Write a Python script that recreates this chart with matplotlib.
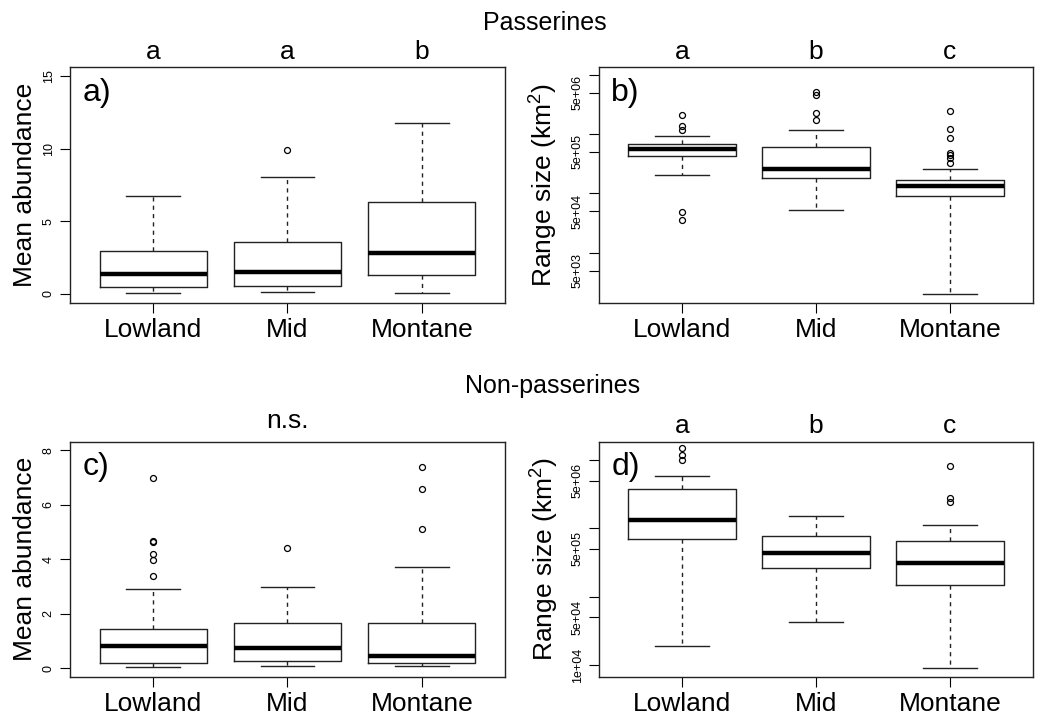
import numpy as np
import matplotlib
matplotlib.use("Agg")
import matplotlib.pyplot as plt
from matplotlib.ticker import FixedLocator, NullLocator

plt.rcParams['font.family'] = ['Liberation Sans', 'DejaVu Sans']
plt.rcParams['mathtext.fontset'] = 'custom'
plt.rcParams['mathtext.rm'] = 'Liberation Sans'
plt.rcParams['mathtext.it'] = 'Liberation Sans:italic'

groups = ['Lowland', 'Mid', 'Montane']

# a) passerines, mean abundance
a_whislo = [0.09, 0.16, 0.09]
a_q1 = [0.48, 0.53, 1.31]
a_med = [1.40, 1.51, 2.82]
a_q3 = [2.96, 3.60, 6.33]
a_whishi = [6.72, 8.07, 11.77]
a_fliers = [[], [9.89], []]

# b) passerines, range size
b_whislo = [2.0e5, 5.2e4, 2.0e3]
b_q1 = [4.3e5, 1.84e5, 9.1e4]
b_med = [5.6e5, 2.6e5, 1.31e5]
b_q3 = [6.7e5, 6.0e5, 1.68e5]
b_whishi = [9.1e5, 1.18e6, 2.6e5]
b_fliers = [[2.1e6, 1.36e6, 1.15e6, 4.8e4, 3.5e4],
            [5.1e6, 4.5e6, 2.3e6, 1.72e6],
            [2.45e6, 1.23e6, 8.7e5, 4.8e5, 4.4e5, 4.0e5, 3.3e5]]

# c) non-passerines, mean abundance
c_whislo = [0.05, 0.07, 0.07]
c_q1 = [0.20, 0.28, 0.21]
c_med = [0.80, 0.74, 0.44]
c_q3 = [1.43, 1.67, 1.67]
c_whishi = [2.90, 2.97, 3.71]
c_fliers = [[7.0, 4.66, 4.63, 4.19, 3.96, 3.39], [4.40], [7.38, 6.57, 5.10]]

# d) non-passerines, range size
d_whislo = [1.9e4, 4.2e4, 9.0e3]
d_q1 = [6.9e5, 2.6e5, 1.48e5]
d_med = [1.31e6, 4.4e5, 3.1e5]
d_q3 = [3.7e6, 7.7e5, 6.5e5]
d_whishi = [5.75e6, 1.53e6, 1.12e6]
d_fliers = [[1.48e7, 1.2e7, 1.0e7], [], [8.3e6, 2.8e6, 2.4e6]]

a_letters = ['a', 'a', 'b']
b_letters = ['a', 'b', 'c']
d_letters = ['a', 'b', 'c']

W, H = 1042, 715
fig = plt.figure(figsize=(W / 100, H / 100), dpi=100)


def px_axes(left, top, right, bottom):
    return fig.add_axes([left / W, 1 - bottom / H, (right - left) / W, (bottom - top) / H])


def make_stats(lo, q1, med, q3, hi, fl):
    out = []
    for i in range(len(lo)):
        out.append(dict(whislo=lo[i], q1=q1[i], med=med[i], q3=q3[i],
                        whishi=hi[i], fliers=fl[i]))
    return out


def draw_panel(ax, stats, ylab, tag, labx):
    ax.bxp(stats, positions=[1, 2, 3], widths=0.8, capwidths=0.4,
           boxprops=dict(color='#222222', lw=1.0),
           medianprops=dict(color='black', lw=3.2, solid_capstyle='butt'),
           whiskerprops=dict(color='#222222', lw=1.0, ls=(0, (3, 3))),
           capprops=dict(color='#222222', lw=1.0),
           flierprops=dict(marker='o', mfc='none', mec='black', ms=4.3, mew=0.9))
    ax.set_xlim(0.38, 3.62)
    ax.set_xticks([1, 2, 3])
    ax.set_xticklabels(groups, fontsize=19)
    ax.tick_params(axis='x', length=7, pad=4)
    ax.tick_params(axis='y', length=7, pad=4, labelsize=9)
    ax.set_ylabel(ylab, fontsize=19, va='center')
    ax.yaxis.set_label_coords(labx, 0.5)
    ax.text(0.028, 0.955, tag, transform=ax.transAxes, fontsize=23, ha='left', va='top')
    for s in ax.spines.values():
        s.set_linewidth(1.0)
        s.set_color('#222222')


ax_a = px_axes(70, 67.3, 505, 302.7)
ax_b = px_axes(599, 67.3, 1033, 302.7)
ax_c = px_axes(70, 441.7, 505, 677)
ax_d = px_axes(599, 441.7, 1033, 677)

rng_lab = 'Range size (km$^2$)'

draw_panel(ax_a, make_stats(a_whislo, a_q1, a_med, a_q3, a_whishi, a_fliers),
           'Mean abundance', 'a)', -0.103)
ax_a.set_ylim(-0.6, 15.6)
ax_a.set_yticks([0, 5, 10, 15])

draw_panel(ax_b, make_stats(b_whislo, b_q1, b_med, b_q3, b_whishi, b_fliers),
           rng_lab, 'b)', -0.128)
ax_b.set_yscale('log')
ax_b.set_ylim(1435, 1.33e7)
b_ticks = [5e3, 1e4, 5e4, 1e5, 5e5, 1e6, 5e6, 1e7]
ax_b.yaxis.set_major_locator(FixedLocator(b_ticks))
ax_b.yaxis.set_minor_locator(NullLocator())
ax_b.set_yticklabels(['5e+03', '', '5e+04', '', '5e+05', '', '5e+06', ''])

draw_panel(ax_c, make_stats(c_whislo, c_q1, c_med, c_q3, c_whishi, c_fliers),
           'Mean abundance', 'c)', -0.103)
ax_c.set_ylim(-0.32, 8.32)
ax_c.set_yticks([0, 2, 4, 6, 8])

draw_panel(ax_d, make_stats(d_whislo, d_q1, d_med, d_q3, d_whishi, d_fliers),
           rng_lab, 'd)', -0.125)
ax_d.set_yscale('log')
ax_d.set_ylim(6.7e3, 1.85e7)
d_ticks = [1e4, 5e4, 1e5, 5e5, 1e6, 5e6, 1e7]
ax_d.yaxis.set_major_locator(FixedLocator(d_ticks))
ax_d.yaxis.set_minor_locator(NullLocator())
ax_d.set_yticklabels(['1e+04', '5e+04', '', '5e+05', '', '5e+06', ''])

# R style: y tick labels parallel to the axis
for ax in [ax_a, ax_b, ax_c, ax_d]:
    for lab in ax.get_yticklabels():
        lab.set_rotation(90)
        lab.set_va('center')
        lab.set_ha('right')

# significance letters above groups
for ax, letters in [(ax_a, a_letters), (ax_b, b_letters), (ax_d, d_letters)]:
    for i, l in enumerate(letters):
        ax.annotate(l, xy=(i + 1, 1), xycoords=('data', 'axes fraction'),
                    xytext=(0, 6), textcoords='offset points',
                    ha='center', va='baseline', fontsize=19, annotation_clip=False)
ax_c.annotate('n.s.', xy=(2, 1), xycoords=('data', 'axes fraction'),
              xytext=(0, 10), textcoords='offset points',
              ha='center', va='baseline', fontsize=19, annotation_clip=False)

fig.text(545 / W, 1 - 30 / H, 'Passerines', ha='center', va='baseline', fontsize=18)
fig.text(553 / W, 1 - 393 / H, 'Non-passerines', ha='center', va='baseline', fontsize=18)

fig.savefig('out.png', dpi=100)
